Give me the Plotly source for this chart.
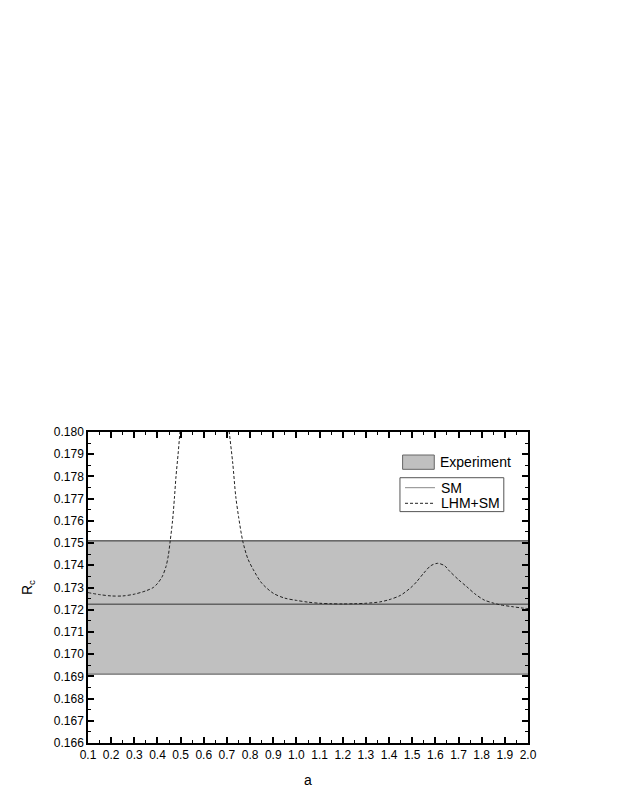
import plotly.graph_objects as go

# Experimental band and SM prediction
exp_low = 0.1691
exp_high = 0.1751
sm_value = 0.17225
a_range = [0.1, 2.0]

# LHM+SM curve
a_vals = [0.10, 0.15, 0.20, 0.25, 0.30, 0.35, 0.382, 0.40, 0.42, 0.437, 0.447,
          0.455, 0.465, 0.473, 0.48, 0.489, 0.497, 0.52, 0.55, 0.60, 0.65, 0.68,
          0.71, 0.725, 0.738, 0.75, 0.768, 0.79, 0.814, 0.85, 0.90, 0.95,
          1.00, 1.05, 1.10, 1.15, 1.20, 1.25, 1.30, 1.36, 1.40, 1.45, 1.50,
          1.52, 1.55, 1.58, 1.61, 1.64, 1.66, 1.70, 1.735, 1.77, 1.81, 1.85,
          1.88, 1.93, 1.98, 2.00]
rc_vals = [0.17277, 0.17268, 0.17262, 0.17262, 0.17270, 0.17285, 0.17300,
           0.17318, 0.17348, 0.17395, 0.17445, 0.17510, 0.17600, 0.17700,
           0.17800, 0.17900, 0.18000, 0.18300, 0.18800, 0.19500, 0.18800,
           0.18300, 0.18000, 0.17860, 0.17710, 0.17620, 0.17510, 0.17430,
           0.17380, 0.17320, 0.17274, 0.17252, 0.17242, 0.17234, 0.17229,
           0.17227, 0.17226, 0.17227, 0.17229, 0.17235, 0.17245, 0.17265,
           0.17305, 0.17327, 0.17365, 0.17398, 0.17409, 0.17398, 0.17375,
           0.17335, 0.17304, 0.17272, 0.17244, 0.17230, 0.17222, 0.17214,
           0.17207, 0.17205]

FONT = "Liberation Sans, Arial, sans-serif"
SM_COLOR = "#333333"
LHM_COLOR = "#222222"
LHM_DASH = "3px,2px"

fig = go.Figure()

# experiment band
fig.add_trace(go.Scatter(x=a_range, y=[exp_low, exp_low], mode="lines",
                         line=dict(color="#555555", width=1),
                         showlegend=False, hoverinfo="skip"))
fig.add_trace(go.Scatter(x=a_range, y=[exp_high, exp_high], mode="lines",
                         line=dict(color="#222222", width=1),
                         fill="tonexty", fillcolor="#c0c0c0",
                         showlegend=False, name="Experiment"))

fig.add_trace(go.Scatter(x=a_range, y=[sm_value, sm_value], mode="lines",
                         line=dict(color=SM_COLOR, width=1), name="SM",
                         showlegend=False))
fig.add_trace(go.Scatter(x=a_vals, y=rc_vals, mode="lines",
                         line=dict(color=LHM_COLOR, width=1, dash=LHM_DASH,
                                   shape="spline", smoothing=0.8),
                         name="LHM+SM", showlegend=False))

# legend drawn by hand: swatch for the band, then a framed box for the lines
legend_font = dict(size=14, color="black", family=FONT)
fig.add_shape(type="rect", xref="paper", yref="paper",
              x0=0.715, x1=0.787, y0=0.880, y1=0.926,
              fillcolor="#c0c0c0", line=dict(color="#666666", width=1))
fig.add_annotation(text="Experiment", xref="paper", yref="paper",
                   x=0.796, y=0.9035, xanchor="left", yanchor="middle",
                   showarrow=False, font=legend_font)
fig.add_shape(type="rect", xref="paper", yref="paper",
              x0=0.709, x1=0.945, y0=0.744, y1=0.853,
              fillcolor="white", line=dict(color="#555555", width=1))
fig.add_shape(type="line", xref="paper", yref="paper",
              x0=0.7205, x1=0.7886, y0=0.8209, y1=0.8209,
              line=dict(color="#888888", width=1))
fig.add_shape(type="line", xref="paper", yref="paper",
              x0=0.7205, x1=0.7886, y0=0.7707, y1=0.7707,
              line=dict(color=LHM_COLOR, width=1, dash=LHM_DASH))
fig.add_annotation(text="SM", xref="paper", yref="paper",
                   x=0.7977, y=0.8209, xanchor="left", yanchor="middle",
                   showarrow=False, font=legend_font)
fig.add_annotation(text="LHM+SM", xref="paper", yref="paper",
                   x=0.7977, y=0.7707, xanchor="left", yanchor="middle",
                   showarrow=False, font=legend_font)

axis_common = dict(
    showgrid=False, zeroline=False, showline=True, linecolor="black",
    linewidth=1.5, mirror="allticks", ticks="inside", ticklen=6,
    tickwidth=1.5, tickcolor="black",
    tickfont=dict(size=12, color="black", family=FONT),
)

fig.update_xaxes(range=[0.1, 2.0], dtick=0.1, tick0=0.1, tickformat=".1f",
                 minor=dict(ticks="inside", ticklen=3, dtick=0.05,
                            tickcolor="black", tickwidth=1),
                 title=dict(text="a", font=dict(size=14, color="black", family=FONT),
                            standoff=14),
                 **axis_common)
fig.update_yaxes(range=[0.166, 0.180], dtick=0.001, tick0=0.166, tickformat=".3f",
                 minor=dict(ticks="inside", ticklen=3, dtick=0.0005,
                            tickcolor="black", tickwidth=1),
                 title=dict(text="R<sub>c</sub>", font=dict(size=14, color="black", family=FONT),
                            standoff=18),
                 **axis_common)

# page body has an 8px margin, so the figure is sized to compensate
fig.update_layout(
    width=615, height=798,
    margin=dict(l=80, r=95, t=424, b=63),
    plot_bgcolor="white", paper_bgcolor="white",
    font=dict(family=FONT, color="black"),
    showlegend=False,
)

fig.write_html("out.html")
